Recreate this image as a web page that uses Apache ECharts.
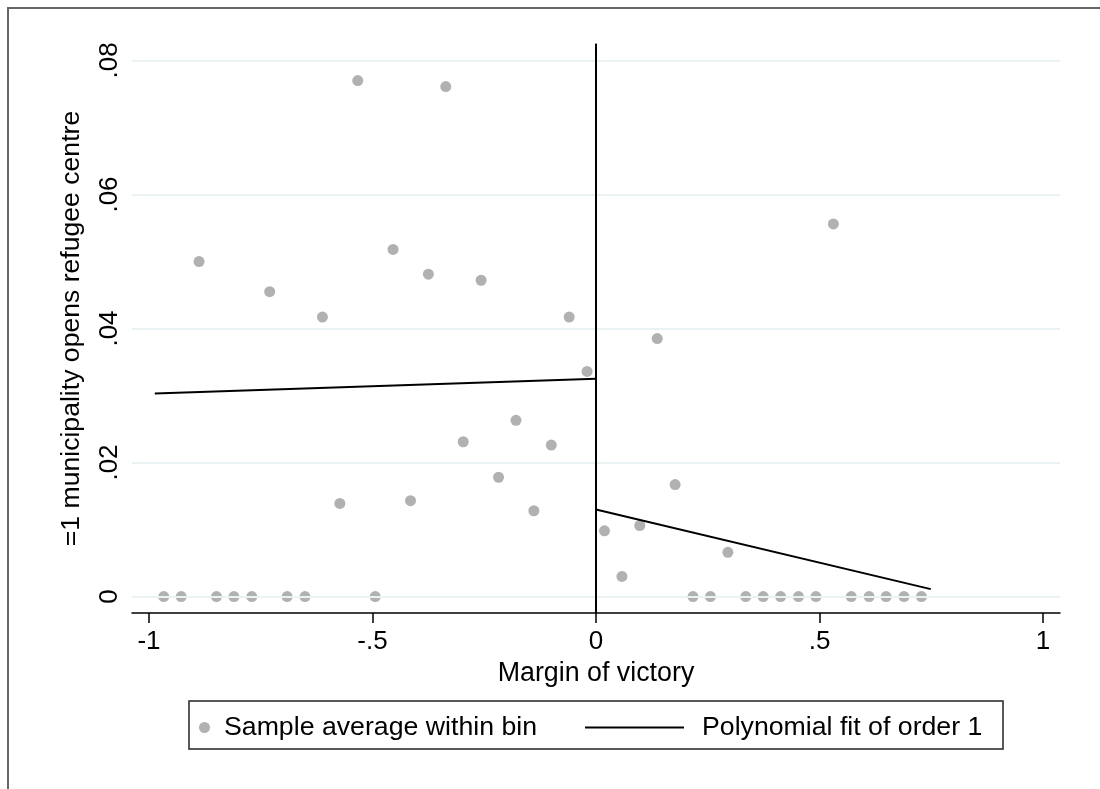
<!DOCTYPE html>
<html>
<head>
<meta charset="utf-8">
<script src="https://cdn.jsdelivr.net/npm/echarts@6/dist/echarts.min.js"></script>
<style>
  html, body { margin: 0; padding: 0; background: #fff; }
  #rd_chart { width: 1100px; height: 789px; }
</style>
</head>
<body>
<!-- 图表 -->
<div id="rd_chart"></div>

<script type="text/javascript">
// 分箱均值 (bin centres and averages)
var binX = [-0.967, -0.928, -0.888, -0.849, -0.810, -0.770, -0.730, -0.691, -0.651, -0.612,
            -0.573, -0.533, -0.494, -0.454, -0.415, -0.375, -0.336, -0.297, -0.257, -0.218,
            -0.179, -0.139, -0.100, -0.060, -0.020,
            0.019, 0.058, 0.098, 0.137, 0.177, 0.217, 0.256, 0.295, 0.335, 0.374,
            0.413, 0.453, 0.492, 0.531, 0.571, 0.611, 0.649, 0.689, 0.728];
var binY = [0, 0, 0.0500, 0, 0, 0, 0.0455, 0, 0, 0.0417,
            0.0139, 0.0770, 0, 0.0518, 0.0143, 0.0481, 0.0761, 0.0231, 0.0472, 0.0178,
            0.0263, 0.0128, 0.0226, 0.0417, 0.0336,
            0.0098, 0.0030, 0.0106, 0.0385, 0.0167, 0, 0, 0.0066, 0, 0,
            0, 0, 0, 0.0556, 0, 0, 0, 0, 0];

// 一次多项式拟合 (left / right of cutoff)
var fitLeftX = [-0.987, 0];
var fitLeftY = [0.0303, 0.0325];
var fitRightX = [0, 0.749];
var fitRightY = [0.0130, 0.0011];

// 刻度
var xTickValues = [-1, -0.5, 0, 0.5, 1];
var xTickLabels = ['-1', '-.5', '0', '.5', '1'];
var yTickValues = [0, 0.02, 0.04, 0.06, 0.08];
var yTickLabels = ['0', '.02', '.04', '.06', '.08'];

var scatterName = 'Sample average within bin';
var fitName = 'Polynomial fit of order 1';

function zip(xs, ys) {
	var list = [];
	for (var i = 0; i < xs.length; i++) {
		list.push([xs[i], ys[i]]);
	}
	return list;
}

function tickLabel(values, labels) {
	return function (v) {
		for (var i = 0; i < values.length; i++) {
			if (Math.abs(values[i] - v) < 1e-9) return labels[i];
		}
		return '';
	};
}

var font = 'Liberation Sans, Arial, sans-serif';
var chart = echarts.init(document.getElementById('rd_chart'));

var options = {
	backgroundColor: '#fff',
	animation: false,
	textStyle: { fontFamily: font, color: '#000' },
	grid: { left: 132, right: 40, top: 44, bottom: 176 },
	legend: [
		{
			left: 199, top: 714, padding: 0,
			icon: 'circle', itemWidth: 11, itemHeight: 11,
			data: [scatterName],
			itemStyle: { color: '#9e9e9e' },
			textStyle: { fontFamily: font, fontSize: 26.7, color: '#000', padding: [0, 0, 0, 9] }
		},
		{
			left: 585, top: 714, padding: 0,
			icon: 'rect', itemWidth: 99, itemHeight: 2,
			data: [fitName],
			itemStyle: { color: '#000' },
			textStyle: { fontFamily: font, fontSize: 26.7, color: '#000', padding: [0, 0, 0, 13] }
		}
	],
	graphic: [
		{ type: 'rect', shape: { x: 189, y: 701, width: 814, height: 48 },
		  style: { fill: 'none', stroke: '#222', lineWidth: 1.5 }, silent: true },
		{ type: 'rect', shape: { x: 8, y: 8, width: 1200, height: 1200 },
		  style: { fill: 'none', stroke: '#666', lineWidth: 2 }, silent: true }
	],
	xAxis: {
		type: 'value',
		min: -1.038, max: 1.038,
		name: 'Margin of victory',
		nameLocation: 'middle',
		nameGap: 42,
		nameTextStyle: { fontFamily: font, fontSize: 26.8, color: '#000' },
		axisLine: { onZero: false, lineStyle: { color: '#000', width: 1.5 } },
		axisTick: { show: true, length: 10, customValues: xTickValues, lineStyle: { color: '#000', width: 1.5 } },
		axisLabel: { customValues: xTickValues, margin: 16, fontSize: 26, color: '#000', fontFamily: font,
			formatter: tickLabel(xTickValues, xTickLabels) },
		splitLine: { show: false }
	},
	yAxis: {
		type: 'value',
		min: -0.00246, max: 0.08246,
		name: '=1 municipality opens refugee centre',
		nameLocation: 'middle',
		nameGap: 47,
		nameTextStyle: { fontFamily: font, fontSize: 26.6, color: '#000' },
		axisLine: { show: true, lineStyle: { color: '#000', width: 1.5 } },
		axisTick: { show: true, length: 10, customValues: yTickValues, lineStyle: { color: '#000', width: 1.5 } },
		axisLabel: { customValues: yTickValues, rotate: 90, margin: 9, fontSize: 26, color: '#000', fontFamily: font,
			formatter: tickLabel(yTickValues, yTickLabels) },
		splitLine: { show: false }
	},
	series: [
		{
			// 网格线
			name: 'grid',
			type: 'line',
			data: [],
			silent: true,
			markLine: {
				silent: true, symbol: 'none', label: { show: false },
				lineStyle: { color: '#eaf2f3', width: 2, type: 'solid' },
				data: yTickValues.map(function (v) { return { yAxis: v }; })
			}
		},
		{
			name: scatterName,
			type: 'scatter',
			symbol: 'circle',
			symbolSize: 11,
			itemStyle: { color: '#9e9e9e' },
			data: zip(binX, binY)
		},
		{
			name: fitName,
			type: 'line',
			symbol: 'none',
			lineStyle: { color: '#000', width: 2 },
			itemStyle: { color: '#000' },
			data: zip(fitLeftX, fitLeftY),
			markLine: {
				silent: true, symbol: 'none', label: { show: false },
				lineStyle: { color: '#000', width: 2, type: 'solid' },
				data: [{ xAxis: 0 }]
			}
		},
		{
			name: fitName,
			type: 'line',
			symbol: 'none',
			lineStyle: { color: '#000', width: 2 },
			itemStyle: { color: '#000' },
			data: zip(fitRightX, fitRightY)
		}
	]
};
chart.setOption(options);
</script>
</body>
</html>
